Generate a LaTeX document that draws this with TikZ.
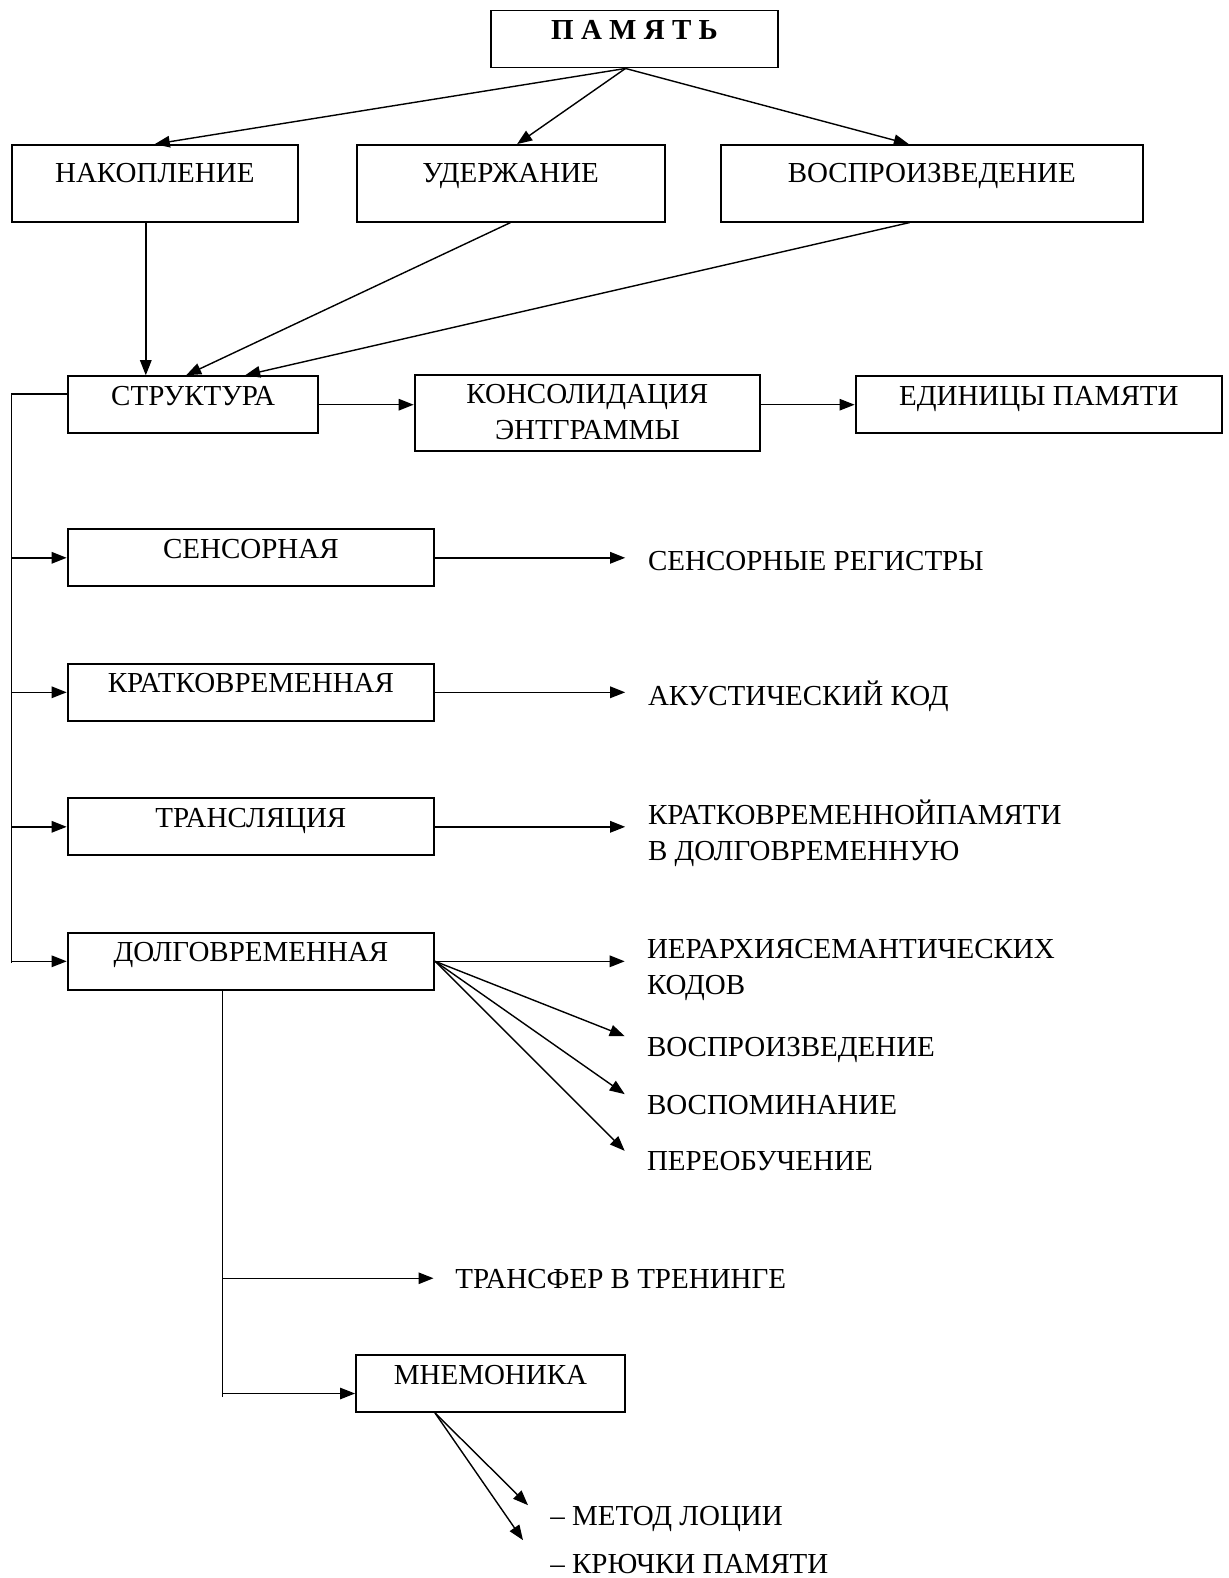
\documentclass[tikz,border=0pt]{standalone}
\usepackage{fontspec}
\setmainfont{Liberation Serif}
\usepackage{tikz}
\usetikzlibrary{arrows.meta}
\tikzstyle{block} = [rectangle, draw=black, line width=1.1pt, inner sep=0pt, text centered, minimum height=11.4mm, text height=5.8mm, text depth=5.6mm]
\tikzstyle{tallblock} = [block, minimum height=15.3mm, text height=7.5mm, text depth=7.8mm]
\tikzstyle{lbl} = [inner sep=0pt, anchor=base west, text height=3.9mm, text depth=0pt]
\tikzstyle{lbltwo} = [inner sep=0pt, anchor=base west, align=left]
\tikzstyle{line} = [line width=0.9pt]
\tikzstyle{arrow} = [line width=0.8pt, -{Triangle[length=3mm, width=2.3mm]}]

\begin{document}
\begin{tikzpicture}[x=0.2mm, y=-0.2mm, node distance=26.9mm, font=\fontsize{16.5}{20.1}\selectfont]
        \useasboundingbox (0,0) rectangle (1229,1578);

        \node (pamyat) [block, minimum width=57.4mm] at (634.5,39) {\textbf{П А М Я Т Ь}};
        \node (nakop) [tallblock, minimum width=57.2mm] at (154.8,183.3) {НАКОПЛЕНИЕ};
        \node (uderzh) [tallblock, minimum width=61.6mm] at (510.6,183.3) {УДЕРЖАНИЕ};
        \node (vospr) [tallblock, minimum width=84.3mm] at (931.8,183.3) {ВОСПРОИЗВЕДЕНИЕ};
        \node (struct) [block, minimum width=49.9mm] at (193.2,404.7) {СТРУКТУРА};
        \node (konsol) [tallblock, minimum width=69.1mm, text height=12.8mm, text depth=2.3mm, align=center] at (587.4,412.8) {КОНСОЛИДАЦИЯ\\ЭНТГРАММЫ};
        \node (edin) [block, minimum width=73.3mm] at (1038.8,404.7) {ЕДИНИЦЫ ПАМЯТИ};
        \node (sens) [block, minimum width=73.3mm] at (250.9,557.8) {СЕНСОРНАЯ};
        \node (krat) [block, minimum width=73.3mm, below of=sens] {КРАТКОВРЕМЕННАЯ};
        \node (trans) [block, minimum width=73.3mm, below of=krat] {ТРАНСЛЯЦИЯ};
        \node (dolg) [block, minimum width=73.3mm, below of=trans] {ДОЛГОВРЕМЕННАЯ};
        \node (mnem) [block, minimum width=53.8mm] at (490.5,1383.5) {МНЕМОНИКА};

        \node (sensReg) [lbl] at (647.7,570.7) {СЕНСОРНЫЕ РЕГИСТРЫ};
        \node (akust) [lbl] at (647.7,705) {АКУСТИЧЕСКИЙ КОД};
        \node (kratPam) [lbltwo] at (647.7,860) {КРАТКОВРЕМЕННОЙПАМЯТИ\\В ДОЛГОВРЕМЕННУЮ};
        \node (ierarh) [lbltwo] at (646.7,994.3) {ИЕРАРХИЯСЕМАНТИЧЕСКИХ\\КОДОВ};
        \node (vosprL) [lbl] at (646.7,1056) {ВОСПРОИЗВЕДЕНИЕ};
        \node (vospom) [lbl] at (646.7,1114) {ВОСПОМИНАНИЕ};
        \node (pereob) [lbl] at (646.7,1170.7) {ПЕРЕОБУЧЕНИЕ};
        \node (transfer) [lbl] at (455,1288) {ТРАНСФЕР В ТРЕНИНГЕ};
        \node (metod) [lbl] at (550,1525) {– МЕТОД ЛОЦИИ};
        \node (kryuch) [lbl] at (550,1573) {– КРЮЧКИ ПАМЯТИ};

        \draw [arrow] ([xshift=-1.8mm]pamyat.south) -- (nakop.north);
        \draw [arrow] ([xshift=-1.8mm]pamyat.south) -- ([xshift=1.3mm]uderzh.north);
        \draw [arrow] ([xshift=-1.8mm]pamyat.south) -- ([xshift=-4.6mm]vospr.north);
        \draw [arrow] ([xshift=-1.8mm]nakop.south) -- ([xshift=-1.8mm]nakop.south |- struct.north);
        \draw [arrow] (uderzh.south) -- ([xshift=-1.4mm]struct.north);
        \draw [arrow] ([xshift=-4.4mm]vospr.south) -- ([xshift=10.4mm]struct.north);
        \draw [arrow] (struct.east) -- (struct.east -| konsol.west);
        \draw [arrow] (edin.west -| konsol.east) -- (edin.west);

        \coordinate (busEnd) at (11.7,963.3);
        \draw [line] ([yshift=2.1mm]struct.west) -| (busEnd);
        \foreach \n in {sens,krat,trans,dolg}
            \draw [arrow] (busEnd |- \n.west) -- (\n.west);

        \draw [arrow, shorten >=4.5mm] (sens.east) -- (sens.east -| sensReg.west);
        \draw [arrow, shorten >=4.5mm] (krat.east) -- (krat.east -| akust.west);
        \draw [arrow, shorten >=4.5mm] (trans.east) -- (trans.east -| kratPam.west);
        \draw [arrow, shorten >=4.4mm] (dolg.east) -- (dolg.east -| ierarh.west);
        \draw [arrow] (dolg.east) -- ([xshift=-4.4mm]vosprL.north west);
        \draw [arrow] (dolg.east) -- ([xshift=-4.4mm]vospom.north west);
        \draw [arrow] (dolg.east) -- ([xshift=-4.4mm]pereob.north west);

        \coordinate (dolgEnd) at (222.7,1396.7);
        \draw [line] (dolg.south -| dolgEnd) -- (dolgEnd);
        \draw [arrow, shorten >=4.3mm] (dolgEnd |- transfer.west) -- (transfer.west);
        \coordinate (mnemIn) at ([yshift=-2mm]mnem.west);
        \draw [arrow] (dolgEnd |- mnemIn) -- (mnemIn);
        \draw [arrow] ([xshift=-11.1mm]mnem.south) -- ([xshift=-4.4mm]metod.north west);
        \draw [arrow] ([xshift=-11.1mm]mnem.south) -- ([xshift=-5.4mm, yshift=2.6mm]kryuch.north west);
    \end{tikzpicture}
\end{document}
